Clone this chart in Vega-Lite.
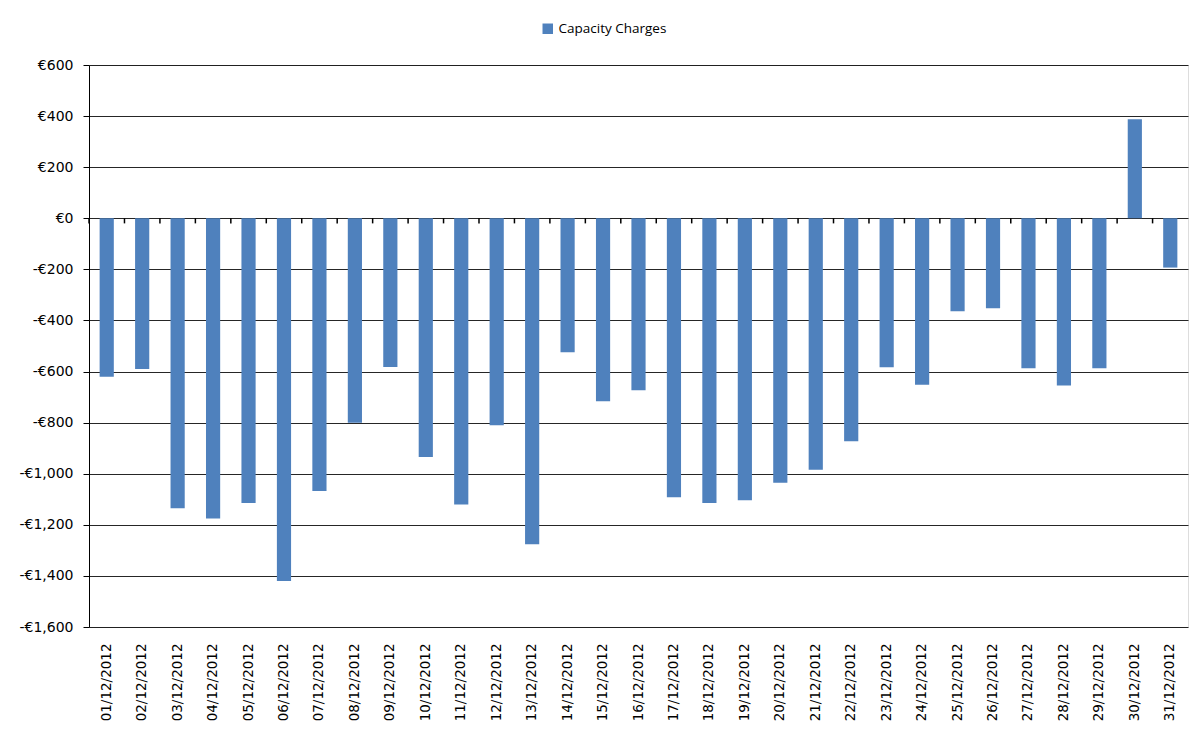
{
  "$schema": "https://vega.github.io/schema/vega-lite/v6.json",
  "autosize": "none",
  "width": 1099,
  "height": 562,
  "padding": {"left": 89, "top": 65, "right": 14, "bottom": 108},
  "background": "white",
  "data": {"values": [
    {"date": "01/12/2012", "value": -620, "series": "Capacity Charges"},
    {"date": "02/12/2012", "value": -590, "series": "Capacity Charges"},
    {"date": "03/12/2012", "value": -1135, "series": "Capacity Charges"},
    {"date": "04/12/2012", "value": -1175, "series": "Capacity Charges"},
    {"date": "05/12/2012", "value": -1115, "series": "Capacity Charges"},
    {"date": "06/12/2012", "value": -1420, "series": "Capacity Charges"},
    {"date": "07/12/2012", "value": -1068, "series": "Capacity Charges"},
    {"date": "08/12/2012", "value": -800, "series": "Capacity Charges"},
    {"date": "09/12/2012", "value": -582, "series": "Capacity Charges"},
    {"date": "10/12/2012", "value": -935, "series": "Capacity Charges"},
    {"date": "11/12/2012", "value": -1120, "series": "Capacity Charges"},
    {"date": "12/12/2012", "value": -810, "series": "Capacity Charges"},
    {"date": "13/12/2012", "value": -1276, "series": "Capacity Charges"},
    {"date": "14/12/2012", "value": -524, "series": "Capacity Charges"},
    {"date": "15/12/2012", "value": -716, "series": "Capacity Charges"},
    {"date": "16/12/2012", "value": -673, "series": "Capacity Charges"},
    {"date": "17/12/2012", "value": -1092, "series": "Capacity Charges"},
    {"date": "18/12/2012", "value": -1115, "series": "Capacity Charges"},
    {"date": "19/12/2012", "value": -1104, "series": "Capacity Charges"},
    {"date": "20/12/2012", "value": -1035, "series": "Capacity Charges"},
    {"date": "21/12/2012", "value": -984, "series": "Capacity Charges"},
    {"date": "22/12/2012", "value": -873, "series": "Capacity Charges"},
    {"date": "23/12/2012", "value": -583, "series": "Capacity Charges"},
    {"date": "24/12/2012", "value": -652, "series": "Capacity Charges"},
    {"date": "25/12/2012", "value": -364, "series": "Capacity Charges"},
    {"date": "26/12/2012", "value": -352, "series": "Capacity Charges"},
    {"date": "27/12/2012", "value": -587, "series": "Capacity Charges"},
    {"date": "28/12/2012", "value": -655, "series": "Capacity Charges"},
    {"date": "29/12/2012", "value": -587, "series": "Capacity Charges"},
    {"date": "30/12/2012", "value": 388, "series": "Capacity Charges"},
    {"date": "31/12/2012", "value": -193, "series": "Capacity Charges"}
  ]},
  "layer": [
    {
      "mark": {"type": "bar", "color": "#4F81BD"},
      "encoding": {
        "x": {
          "field": "date", "type": "ordinal", "sort": null,
          "scale": {"paddingInner": 0.6, "paddingOuter": 0.3},
          "axis": {
            "title": null, "orient": "bottom", "labelAngle": -90, "domain": false, "ticks": false,
            "labelFont": "DejaVu Sans", "labelFontSize": 13.5, "labelColor": "black", "labelPadding": 16
          }
        },
        "y": {
          "field": "value", "type": "quantitative",
          "scale": {"domain": [-1600, 600], "nice": false, "zero": false},
          "axis": {
            "title": null, "values": [-1600, -1400, -1200, -1000, -800, -600, -400, -200, 0, 200, 400, 600],
            "labelExpr": "(datum.value < 0 ? '-' : '') + '€' + format(abs(datum.value), ',')",
            "grid": true, "gridColor": "#000000", "gridWidth": 1, "gridOpacity": 0.85,
            "domain": true, "domainColor": "#000000", "ticks": true, "tickColor": "#000000", "tickSize": 6,
            "labelFont": "DejaVu Sans", "labelFontSize": 14, "labelColor": "black", "labelPadding": 10
          }
        },
        "color": {
          "field": "series", "type": "nominal",
          "scale": {"range": ["#4F81BD"]},
          "legend": {
            "title": null, "orient": "none", "legendX": 452, "legendY": -43,
            "symbolType": "square", "symbolSize": 110, "symbolOpacity": 1,
            "labelFont": "Open Sans", "labelFontSize": 13.5, "labelColor": "black"
          }
        }
      }
    },
    {
      "mark": {"type": "rule", "color": "#000000", "strokeWidth": 1.5, "xOffset": -17.7},
      "encoding": {
        "x": {"field": "date", "type": "ordinal", "sort": null},
        "y": {"datum": 0},
        "y2": {"datum": -20}
      }
    }
  ]
}
